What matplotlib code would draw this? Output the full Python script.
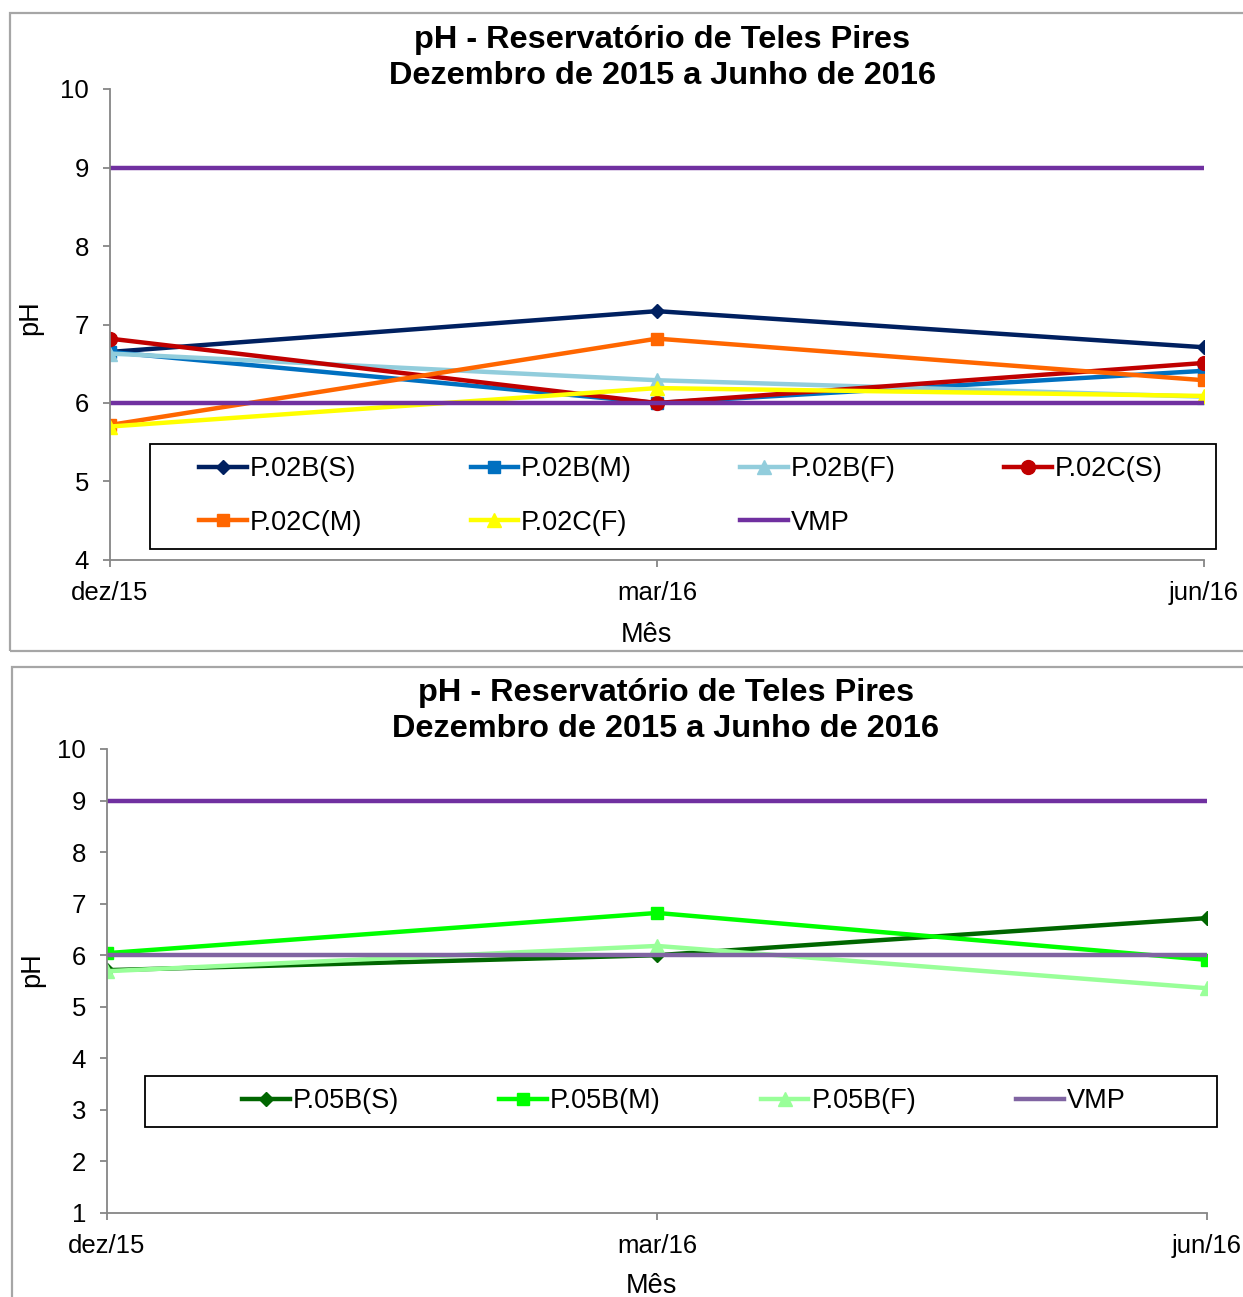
import numpy as np
import matplotlib.pyplot as plt
from matplotlib.patches import Rectangle

plt.rcParams['font.family'] = ['Liberation Sans', 'DejaVu Sans']

W, H = 1243, 1297
meses = ['dez/15', 'mar/16', 'jun/16']

# pontos P.02
p02_nomes = ['P.02B(S)', 'P.02B(M)', 'P.02B(F)', 'P.02C(S)', 'P.02C(M)', 'P.02C(F)']
p02b_s = [6.65, 7.17, 6.71]
p02b_m = [6.65, 6.00, 6.41]
p02b_f = [6.63, 6.29, 6.08]
p02c_s = [6.82, 6.00, 6.51]
p02c_m = [5.72, 6.82, 6.29]
p02c_f = [5.70, 6.19, 6.09]

# pontos P.05
p05_nomes = ['P.05B(S)', 'P.05B(M)', 'P.05B(F)']
p05b_s = [5.71, 6.00, 6.72]
p05b_m = [6.04, 6.82, 5.91]
p05b_f = [5.69, 6.18, 5.36]

# limites do VMP (pH 6 a 9)
vmp_min = [6, 6, 6]
vmp_max = [9, 9, 9]

titulo = 'pH - Reservatório de Teles Pires\nDezembro de 2015 a Junho de 2016'

cor_eixo = '#868686'
fs_tick = 18.5
fs_leg = 19.5


def fx(px):
    return px / W


def fy(py):
    return 1 - py / H


def eixo(x0, x1, y0, y1):
    # x0,x1,y0,y1 em pixels (y0 topo, y1 base)
    return fig.add_axes([fx(x0), fy(y1), (x1 - x0) / W, (y1 - y0) / H])


def estilo(ax, ymin, ymax):
    ax.set_xlim(0, 2)
    ax.set_ylim(ymin, ymax)
    ax.set_xticks(range(3))
    ax.set_xticklabels(meses)
    ax.set_yticks(np.arange(ymin, ymax + 1))
    for s in ['top', 'right']:
        ax.spines[s].set_visible(False)
    for s in ['left', 'bottom']:
        ax.spines[s].set_color(cor_eixo)
        ax.spines[s].set_linewidth(1.3)
    ax.tick_params(axis='both', colors=cor_eixo, labelcolor='black',
                   labelsize=fs_tick, length=5, width=1.3, direction='out')
    ax.tick_params(axis='y', pad=10)
    ax.tick_params(axis='x', pad=10)
    ax.patch.set_alpha(0)


def linha_a_linha(ax, ncol):
    # legenda preenchida por linhas (como no Excel)
    h, l = ax.get_legend_handles_labels()
    nrow = int(np.ceil(len(h) / ncol))
    ordem = []
    for c in range(ncol):
        for r in range(nrow):
            i = r * ncol + c
            if i < len(h):
                ordem.append(i)
    return [h[i] for i in ordem], [l[i] for i in ordem]


fig = plt.figure(figsize=(W / 100, H / 100), dpi=100)

# molduras dos dois graficos
for (x0, y0, y1) in [(10, 13, 651), (12, 667, 1310)]:
    fig.patches.append(Rectangle((fx(x0), fy(y1)), fx(1300 - x0), (y1 - y0) / H,
                                 transform=fig.transFigure, fill=False,
                                 edgecolor='#A6A6A6', linewidth=1.6))

lw = 3.2
x = np.arange(3)

# ---------- grafico P.02 ----------
ax1 = eixo(110, 1204, 89, 560)
estilo(ax1, 4, 10)
ax1.plot(x, p02b_s, color='#002060', lw=lw, marker='D', ms=7.5, label=p02_nomes[0])
ax1.plot(x, p02b_m, color='#0070C0', lw=lw, marker='s', ms=9, label=p02_nomes[1])
ax1.plot(x, p02b_f, color='#92CDDC', lw=lw, marker='^', ms=10, label=p02_nomes[2])
ax1.plot(x, p02c_s, color='#C00000', lw=lw, marker='o', ms=10, label=p02_nomes[3])
ax1.plot(x, p02c_m, color='#FF6600', lw=lw, marker='s', ms=9, label=p02_nomes[4])
ax1.plot(x, p02c_f, color='#FFFF00', lw=lw, marker='^', ms=10, label=p02_nomes[5])
ax1.plot(x, vmp_max, color='#7030A0', lw=lw, label='VMP')
ax1.plot(x, vmp_min, color='#7030A0', lw=lw, label='_vmp')
ax1.set_ylabel('pH', fontsize=fs_leg)
ax1.yaxis.set_label_coords(-0.061, 0.515)
ax1.set_xlabel('Mês', fontsize=fs_leg)
ax1.xaxis.set_label_coords(0.49, -0.132)
fig.text(fx(662), fy(58), titulo, ha='center', va='center', fontsize=23.4,
         fontweight='bold', linespacing=1.28)

fig.patches.append(Rectangle((fx(150), fy(549)), (1216 - 150) / W, (549 - 444) / H,
                             transform=fig.transFigure, fill=False,
                             edgecolor='black', linewidth=1.3))
h1, l1 = linha_a_linha(ax1, 4)
ax1.legend(h1, l1, loc='center', bbox_to_anchor=(fx(681), fy(496)),
           bbox_transform=fig.transFigure, ncol=4, frameon=False,
           fontsize=fs_leg, handlelength=1.75, handletextpad=0.12,
           columnspacing=4.0, labelspacing=1.0)

# ---------- grafico P.05 ----------
ax2 = eixo(107, 1207, 749, 1213)
estilo(ax2, 1, 10)
ax2.plot(x, p05b_s, color='#006600', lw=lw, marker='D', ms=7.5, label=p05_nomes[0])
ax2.plot(x, p05b_m, color='#00FF00', lw=lw, marker='s', ms=9, label=p05_nomes[1])
ax2.plot(x, p05b_f, color='#99FF99', lw=lw, marker='^', ms=10, label=p05_nomes[2])
ax2.plot(x, vmp_max, color='#7030A0', lw=lw, label='_vmp')
ax2.plot(x, vmp_min, color='#8064A2', lw=lw, label='VMP')
ax2.set_ylabel('pH', fontsize=fs_leg)
ax2.yaxis.set_label_coords(-0.056, 0.524)
ax2.set_xlabel('Mês', fontsize=fs_leg)
ax2.xaxis.set_label_coords(0.495, -0.129)
fig.text(fx(666), fy(711), titulo, ha='center', va='center', fontsize=23.4,
         fontweight='bold', linespacing=1.28)

fig.patches.append(Rectangle((fx(145), fy(1127)), (1217 - 145) / W, (1127 - 1076) / H,
                             transform=fig.transFigure, fill=False,
                             edgecolor='black', linewidth=1.3))
ax2.legend(loc='center', bbox_to_anchor=(fx(684), fy(1101)),
           bbox_transform=fig.transFigure, ncol=4, frameon=False,
           fontsize=fs_leg, handlelength=1.75, handletextpad=0.12,
           columnspacing=3.7)

fig.savefig('out.png', dpi=100)
